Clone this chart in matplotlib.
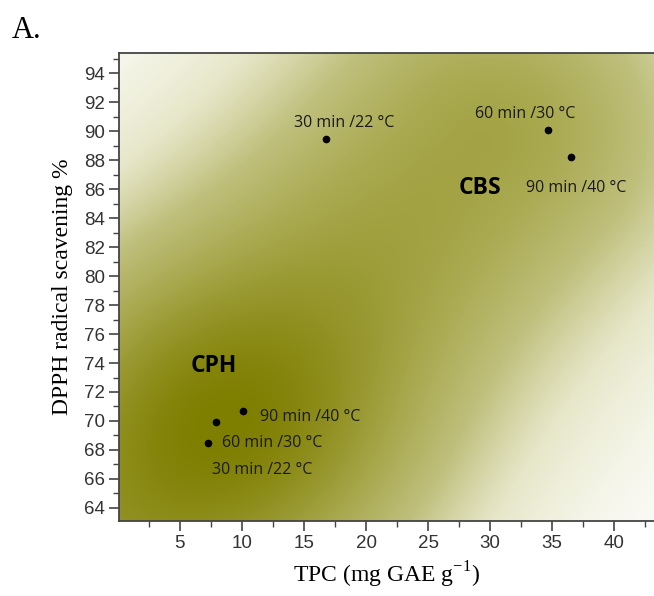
import numpy as np
import matplotlib
matplotlib.use("Agg")
import matplotlib.pyplot as plt
from matplotlib.colors import LinearSegmentedColormap
from matplotlib.ticker import MultipleLocator

# datos
grupo = ["CPH", "CPH", "CPH", "CBS", "CBS", "CBS"]
condicion = ["30 min /22 °C", "60 min /30 °C", "90 min /40 °C",
             "30 min /22 °C", "60 min /30 °C", "90 min /40 °C"]
tpc = [7.3, 7.9, 10.1, 16.8, 34.7, 36.5]
dpph = [68.5, 69.9, 70.7, 89.5, 90.1, 88.2]

# posicion de las etiquetas de cada punto
etiqueta_x = [11.6, 12.4, 15.5, 18.2, 32.8, 36.9]
etiqueta_y = [66.6, 68.5, 70.3, 90.6, 91.2, 86.1]

grupo_x = [7.7, 29.2]
grupo_y = [73.8, 86.1]
grupo_txt = ["CPH", "CBS"]

xlim = (0.1, 43.2)
ylim = (63.1, 95.4)

fig = plt.figure(figsize=(6.54, 5.96), dpi=100)
ax = fig.add_axes([0.182, 0.126, 0.818, 0.785])

# fondo: banda difusa entre los centroides de cada grupo
tpc_a = np.array(tpc)
dpph_a = np.array(dpph)
g = np.array(grupo)
c1 = np.array([tpc_a[g == "CPH"].mean(), dpph_a[g == "CPH"].mean()])
c2 = np.array([tpc_a[g == "CBS"].mean(), dpph_a[g == "CBS"].mean()])

def norm(x, y):
    return (x - xlim[0]) / (xlim[1] - xlim[0]), (y - ylim[0]) / (ylim[1] - ylim[0])

gx = np.linspace(xlim[0], xlim[1], 400)
gy = np.linspace(ylim[0], ylim[1], 400)
X, Y = np.meshgrid(gx, gy)
U, V = norm(X, Y)
u1, v1 = norm(*c1)
u2, v2 = norm(*c2)
du, dv = u2 - u1, v2 - v1
largo = np.hypot(du, dv)
d = np.array([du, dv]) / largo
n = np.array([-d[1], d[0]])
s = ((U - u1) * d[0] + (V - v1) * d[1]) / largo
p = (U - u1) * n[0] + (V - v1) * n[1]

amp = 0.7 + 0.3 * np.exp(-s ** 2 / (2 * 0.3 ** 2))
amp = np.where(s > 1, amp * np.exp(-(s - 1) ** 2 / (2 * 0.45 ** 2)), amp)
t = amp * np.exp(-p ** 2 / (2 * 0.32 ** 2))

cmap = LinearSegmentedColormap.from_list(
    "oliva", [(0.0, "#ffffff"), (0.25, "#e6e6c8"), (0.45, "#c0c07e"),
              (0.7, "#a4a446"), (1.0, "#7e7e00")])
ax.imshow(t, extent=[xlim[0], xlim[1], ylim[0], ylim[1]], origin="lower",
          aspect="auto", cmap=cmap, vmin=0.0, vmax=1.0, interpolation="bilinear", zorder=0)

ax.plot(tpc, dpph, "o", color="black", markersize=4.5, zorder=3)

for i in range(len(condicion)):
    ax.text(etiqueta_x[i], etiqueta_y[i], condicion[i], fontsize=11.5, family="Open Sans",
            ha="center", va="center", color="#1a1a1a", zorder=4)

for i in range(len(grupo_txt)):
    ax.text(grupo_x[i], grupo_y[i], grupo_txt[i], fontsize=16.5, family="Open Sans",
            fontweight="bold", ha="center", va="center", color="black", zorder=4)

ax.set_xlim(xlim)
ax.set_ylim(ylim)
ax.set_xticks([5, 10, 15, 20, 25, 30, 35, 40])
ax.xaxis.set_minor_locator(MultipleLocator(2.5))
ax.set_yticks(np.arange(64, 95, 2))
ax.yaxis.set_minor_locator(MultipleLocator(1))

ax.spines["right"].set_visible(False)
for sp in ["left", "bottom", "top"]:
    ax.spines[sp].set_color("#444444")
    ax.spines[sp].set_linewidth(1.3)

ax.tick_params(which="major", direction="out", length=7, width=1.2, color="#444444",
               labelsize=13.5, pad=3)
ax.tick_params(which="minor", direction="out", length=4, width=1.0, color="#444444")
for lab in ax.get_xticklabels() + ax.get_yticklabels():
    lab.set_family("Liberation Sans")
    lab.set_color("#333333")

ax.set_xlabel("TPC (mg GAE g$^{\\mathregular{-1}}$)", family="Liberation Serif", fontsize=17, labelpad=6)
ax.set_ylabel("DPPH radical scavening %", family="Liberation Serif", fontsize=17, labelpad=8)

fig.text(0.018, 0.948, "A.", family="Liberation Serif", fontsize=22, va="center")

fig.savefig("out.png", dpi=100)
